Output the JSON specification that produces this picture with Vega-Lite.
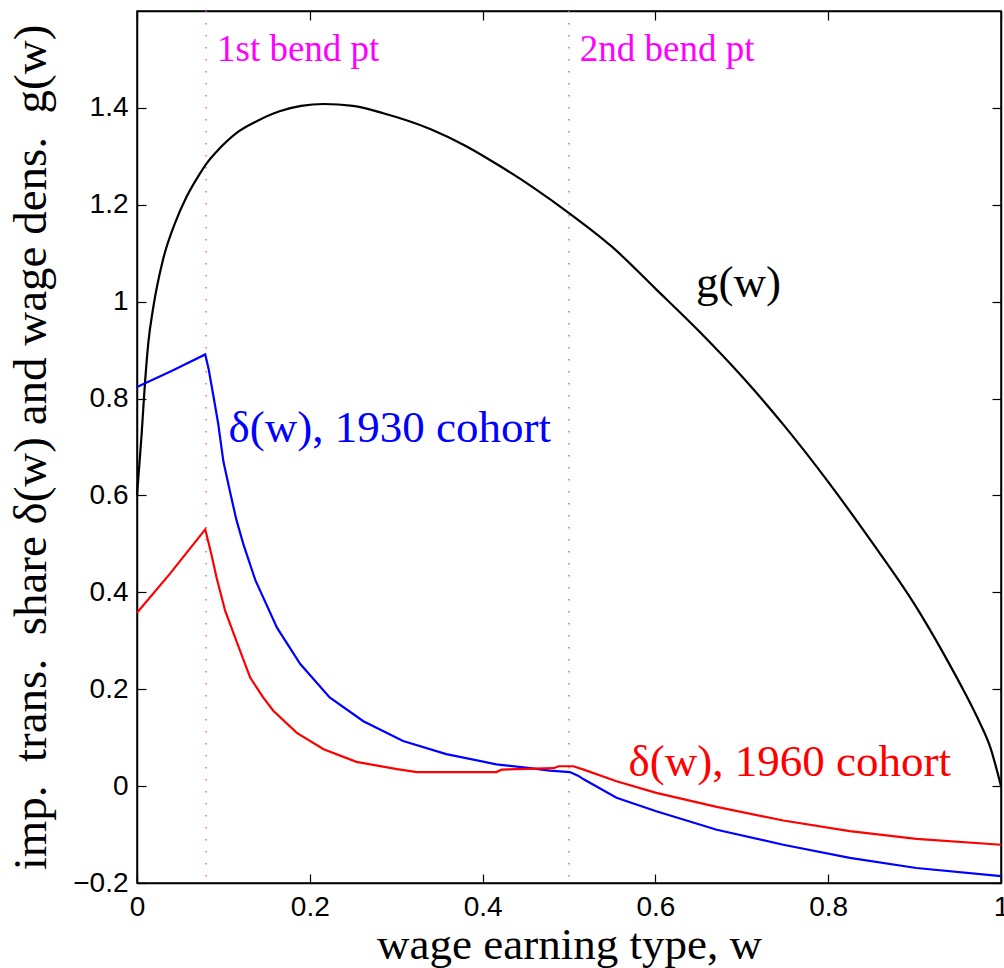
{
  "$schema": "https://vega.github.io/schema/vega-lite/v6.json",
  "width": 864,
  "height": 872,
  "autosize": "none",
  "padding": {"left": 137, "top": 11, "right": 3, "bottom": 85},
  "background": "white",
  "config": {
    "view": {"stroke": "black", "strokeWidth": 1.5},
    "axis": {
      "grid": false,
      "domainColor": "black",
      "domainWidth": 1.5,
      "tickColor": "black",
      "tickWidth": 1.2,
      "tickSize": -9,
      "labelFlush": false,
      "labelFont": "Liberation Sans",
      "labelFontSize": 28,
      "labelColor": "black",
      "titleFont": "Liberation Serif",
      "titleFontWeight": "normal",
      "titleColor": "black"
    }
  },
  "datasets": {
    "g": [
      {"series": "g", "w": 0, "v": 0.6},
      {"series": "g", "w": 0.003, "v": 0.67},
      {"series": "g", "w": 0.0055, "v": 0.73},
      {"series": "g", "w": 0.008, "v": 0.8},
      {"series": "g", "w": 0.0131, "v": 0.915},
      {"series": "g", "w": 0.019, "v": 0.99},
      {"series": "g", "w": 0.03, "v": 1.086},
      {"series": "g", "w": 0.044, "v": 1.162},
      {"series": "g", "w": 0.0575, "v": 1.217},
      {"series": "g", "w": 0.073, "v": 1.265},
      {"series": "g", "w": 0.08, "v": 1.284},
      {"series": "g", "w": 0.096, "v": 1.317},
      {"series": "g", "w": 0.115, "v": 1.348},
      {"series": "g", "w": 0.138, "v": 1.372},
      {"series": "g", "w": 0.165, "v": 1.393},
      {"series": "g", "w": 0.19, "v": 1.404},
      {"series": "g", "w": 0.216, "v": 1.408},
      {"series": "g", "w": 0.25, "v": 1.404},
      {"series": "g", "w": 0.285, "v": 1.389},
      {"series": "g", "w": 0.34, "v": 1.356},
      {"series": "g", "w": 0.38, "v": 1.322},
      {"series": "g", "w": 0.42, "v": 1.28},
      {"series": "g", "w": 0.46, "v": 1.234},
      {"series": "g", "w": 0.5, "v": 1.183},
      {"series": "g", "w": 0.55, "v": 1.113},
      {"series": "g", "w": 0.6, "v": 1.027},
      {"series": "g", "w": 0.65, "v": 0.94},
      {"series": "g", "w": 0.7, "v": 0.846},
      {"series": "g", "w": 0.75, "v": 0.742},
      {"series": "g", "w": 0.8, "v": 0.628},
      {"series": "g", "w": 0.85, "v": 0.505},
      {"series": "g", "w": 0.9, "v": 0.375},
      {"series": "g", "w": 0.934, "v": 0.272},
      {"series": "g", "w": 0.953, "v": 0.21},
      {"series": "g", "w": 0.973, "v": 0.14},
      {"series": "g", "w": 0.988, "v": 0.078},
      {"series": "g", "w": 1.0, "v": 0.0}
    ],
    "delta": [
      {"series": "d1930", "w": 0, "v": 0.824},
      {"series": "d1930", "w": 0.04, "v": 0.857},
      {"series": "d1930", "w": 0.079, "v": 0.891},
      {"series": "d1930", "w": 0.083, "v": 0.86},
      {"series": "d1930", "w": 0.088, "v": 0.81},
      {"series": "d1930", "w": 0.094, "v": 0.748},
      {"series": "d1930", "w": 0.1, "v": 0.67},
      {"series": "d1930", "w": 0.108, "v": 0.605},
      {"series": "d1930", "w": 0.115, "v": 0.55},
      {"series": "d1930", "w": 0.123, "v": 0.5},
      {"series": "d1930", "w": 0.137, "v": 0.425},
      {"series": "d1930", "w": 0.162, "v": 0.327},
      {"series": "d1930", "w": 0.189, "v": 0.252},
      {"series": "d1930", "w": 0.223, "v": 0.183},
      {"series": "d1930", "w": 0.262, "v": 0.134},
      {"series": "d1930", "w": 0.308, "v": 0.093},
      {"series": "d1930", "w": 0.358, "v": 0.066},
      {"series": "d1930", "w": 0.416, "v": 0.045},
      {"series": "d1930", "w": 0.455, "v": 0.037},
      {"series": "d1930", "w": 0.478, "v": 0.032},
      {"series": "d1930", "w": 0.501, "v": 0.029},
      {"series": "d1930", "w": 0.511, "v": 0.021},
      {"series": "d1930", "w": 0.517, "v": 0.014},
      {"series": "d1930", "w": 0.555, "v": -0.024},
      {"series": "d1930", "w": 0.601, "v": -0.052},
      {"series": "d1930", "w": 0.671, "v": -0.09},
      {"series": "d1930", "w": 0.748, "v": -0.121},
      {"series": "d1930", "w": 0.825, "v": -0.148},
      {"series": "d1930", "w": 0.902, "v": -0.169},
      {"series": "d1930", "w": 1.0, "v": -0.186},
      {"series": "d1960", "w": 0, "v": 0.358},
      {"series": "d1960", "w": 0.038, "v": 0.438},
      {"series": "d1960", "w": 0.079, "v": 0.53},
      {"series": "d1960", "w": 0.086, "v": 0.479},
      {"series": "d1960", "w": 0.092, "v": 0.431},
      {"series": "d1960", "w": 0.102, "v": 0.362},
      {"series": "d1960", "w": 0.115, "v": 0.3},
      {"series": "d1960", "w": 0.131, "v": 0.224},
      {"series": "d1960", "w": 0.146, "v": 0.183},
      {"series": "d1960", "w": 0.158, "v": 0.155},
      {"series": "d1960", "w": 0.185, "v": 0.11},
      {"series": "d1960", "w": 0.216, "v": 0.076},
      {"series": "d1960", "w": 0.254, "v": 0.05},
      {"series": "d1960", "w": 0.301, "v": 0.035},
      {"series": "d1960", "w": 0.324, "v": 0.029},
      {"series": "d1960", "w": 0.416, "v": 0.029},
      {"series": "d1960", "w": 0.422, "v": 0.034},
      {"series": "d1960", "w": 0.482, "v": 0.037},
      {"series": "d1960", "w": 0.488, "v": 0.041},
      {"series": "d1960", "w": 0.505, "v": 0.041},
      {"series": "d1960", "w": 0.517, "v": 0.034},
      {"series": "d1960", "w": 0.555, "v": 0.01},
      {"series": "d1960", "w": 0.601, "v": -0.014},
      {"series": "d1960", "w": 0.671, "v": -0.043},
      {"series": "d1960", "w": 0.748, "v": -0.071},
      {"series": "d1960", "w": 0.825, "v": -0.093},
      {"series": "d1960", "w": 0.902, "v": -0.109},
      {"series": "d1960", "w": 1.0, "v": -0.121}
    ],
    "bends": [
      {"w": 0.08, "text": "1st bend pt", "lw": 0.0926, "lv": 1.497},
      {"w": 0.5, "text": "2nd bend pt", "lw": 0.5125, "lv": 1.497}
    ],
    "labels": [
      {"series": "g", "w": 0.647, "v": 1.009, "text": "g(w)"},
      {"series": "d1930", "w": 0.106, "v": 0.71, "text": "δ(w), 1930 cohort"},
      {"series": "d1960", "w": 0.569, "v": 0.021, "text": "δ(w), 1960 cohort"}
    ]
  },
  "layer": [
    {
      "data": {"name": "bends"},
      "mark": {"type": "rule", "color": "#f050f0", "strokeWidth": 1.5, "strokeDash": [1.5, 10.5]},
      "encoding": {
        "x": {"field": "w", "type": "quantitative", "scale": {"domain": [0, 1], "nice": false, "zero": false}, "axis": null}
      }
    },
    {
      "data": {"name": "g"},
      "mark": {"type": "line", "strokeWidth": 2.2, "interpolate": "monotone"},
      "encoding": {
        "x": {
          "field": "w", "type": "quantitative",
          "scale": {"domain": [0, 1], "nice": false, "zero": false},
          "axis": {"orient": "bottom", "values": [0, 0.2, 0.4, 0.6, 0.8, 1], "format": "~g", "labelPadding": 19, "title": "wage earning type, w", "titleFontSize": 45, "titlePadding": 1}
        },
        "y": {
          "field": "v", "type": "quantitative",
          "scale": {"domain": [-0.2, 1.6], "nice": false, "zero": false},
          "axis": {"orient": "left", "values": [-0.2, 0, 0.2, 0.4, 0.6, 0.8, 1, 1.2, 1.4], "format": "~g", "labelPadding": 18, "title": "imp.\u00a0 trans.\u00a0 share δ(w) and wage dens.\u00a0 g(w)", "titleFontSize": 47, "titlePadding": 17}
        },
        "color": {"field": "series", "type": "nominal", "scale": {"domain": ["g", "d1930", "d1960"], "range": ["#000000", "#0000ff", "#ff0000"]}, "legend": null}
      }
    },
    {
      "data": {"name": "delta"},
      "mark": {"type": "line", "strokeWidth": 2.2},
      "encoding": {
        "x": {"field": "w", "type": "quantitative", "scale": {"domain": [0, 1], "nice": false, "zero": false}, "axis": null},
        "y": {"field": "v", "type": "quantitative", "scale": {"domain": [-0.2, 1.6], "nice": false, "zero": false}, "axis": null},
        "color": {"field": "series", "type": "nominal", "scale": {"domain": ["g", "d1930", "d1960"], "range": ["#000000", "#0000ff", "#ff0000"]}, "legend": null}
      }
    },
    {
      "data": {"name": "g"},
      "mark": {"type": "line", "opacity": 0},
      "encoding": {
        "x": {
          "field": "w", "type": "quantitative",
          "scale": {"domain": [0, 1], "nice": false, "zero": false},
          "axis": {"orient": "top", "values": [0, 0.2, 0.4, 0.6, 0.8, 1], "labels": false, "title": null}
        },
        "y": {
          "field": "v", "type": "quantitative",
          "scale": {"domain": [-0.2, 1.6], "nice": false, "zero": false},
          "axis": {"orient": "right", "values": [-0.2, 0, 0.2, 0.4, 0.6, 0.8, 1, 1.2, 1.4], "labels": false, "title": null}
        }
      }
    },
    {
      "data": {"name": "bends"},
      "mark": {"type": "text", "align": "left", "baseline": "alphabetic", "font": "Liberation Serif", "fontSize": 37, "color": "#ff00ff"},
      "encoding": {
        "x": {"field": "lw", "type": "quantitative", "scale": {"domain": [0, 1], "nice": false, "zero": false}, "axis": null},
        "y": {"field": "lv", "type": "quantitative", "scale": {"domain": [-0.2, 1.6], "nice": false, "zero": false}, "axis": null},
        "text": {"field": "text"}
      }
    },
    {
      "data": {"name": "labels"},
      "mark": {"type": "text", "align": "left", "baseline": "alphabetic", "font": "Liberation Serif", "fontSize": 45},
      "encoding": {
        "x": {"field": "w", "type": "quantitative", "scale": {"domain": [0, 1], "nice": false, "zero": false}, "axis": null},
        "y": {"field": "v", "type": "quantitative", "scale": {"domain": [-0.2, 1.6], "nice": false, "zero": false}, "axis": null},
        "text": {"field": "text"},
        "color": {"field": "series", "type": "nominal", "scale": {"domain": ["g", "d1930", "d1960"], "range": ["#000000", "#0000ff", "#ff0000"]}, "legend": null}
      }
    }
  ],
  "resolve": {"axis": {"x": "independent", "y": "independent"}}
}
